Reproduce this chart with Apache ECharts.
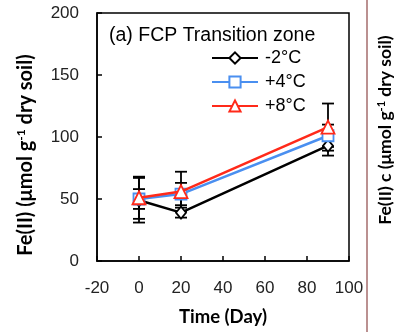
<!DOCTYPE html>
<html><head><meta charset="utf-8">
<script src="https://cdn.jsdelivr.net/npm/echarts@6/dist/echarts.min.js"></script>
<style>html,body{margin:0;padding:0;background:#fff}#c{width:401px;height:332px}</style>
</head><body><div id="c"></div>
<script>
const days = [0, 20, 90];
const seriesNames = ['-2°C', '+4°C', '+8°C'];
const valsM2 = [49, 39, 93];
const valsP4 = [50, 54, 101];
const valsP8 = [51, 56, 108];
const errM2 = [18, 4, 8];
const errP4 = [8, 9, 9];
const errP8 = [17, 16, 19];
const xTicks = [-20, 0, 20, 40, 60, 80, 100];
const yTicks = [0, 50, 100, 150, 200];
const colors = ['#000000', '#4a8ff0', '#ff2a1a'];

const chart = echarts.init(document.getElementById('c'), null, {renderer: 'canvas'});

function errSeries(vals, errs, color, z) {
  return {
    type: 'custom', z: z, silent: true,
    data: days.map((d, i) => [d, vals[i] - errs[i], vals[i] + errs[i]]),
    renderItem: function (params, api) {
      const lo = api.coord([api.value(0), api.value(1)]);
      const hi = api.coord([api.value(0), api.value(2)]);
      const w = 6;
      const st = {stroke: color, lineWidth: 1.8};
      return {type: 'group', children: [
        {type: 'line', shape: {x1: lo[0], y1: lo[1], x2: hi[0], y2: hi[1]}, style: st},
        {type: 'line', shape: {x1: lo[0]-w, y1: lo[1], x2: lo[0]+w, y2: lo[1]}, style: st},
        {type: 'line', shape: {x1: hi[0]-w, y1: hi[1], x2: hi[0]+w, y2: hi[1]}, style: st}
      ]};
    }
  };
}

function lineSeries(name, vals, color, symbol, size, z) {
  return {
    name: name, type: 'line', z: z,
    data: days.map((d, i) => [d, vals[i]]),
    symbol: symbol, symbolSize: size, showSymbol: true,
    lineStyle: {color: color, width: 2.5},
    itemStyle: {color: '#ffffff', borderColor: color, borderWidth: 1.8},
    emphasis: {disabled: true}
  };
}

function labStyle(fs) {
  return {
    a: {fontSize: fs, fontWeight: 'bold', fontFamily: 'Lato', fill: '#000'},
    s: {fontSize: Math.round(fs*0.6), fontWeight: 'bold', fontFamily: 'Lato', fill: '#000', verticalAlign: 'top', padding: [0,0,Math.round(fs*0.45),0]}
  };
}

chart.setOption({
  animation: false,
  backgroundColor: '#ffffff',
  grid: {left: 97, right: 52, top: 13, bottom: 71, show: true, borderColor: '#000', borderWidth: 1.5, backgroundColor: 'transparent'},
  legend: {
    orient: 'vertical', left: 206, top: 44, itemWidth: 46, itemHeight: 14, itemGap: 6,
    data: seriesNames,
    textStyle: {fontSize: 18, fontFamily: 'Liberation Sans', color: '#000', padding: [0,0,0,2]}
  },
  title: {
    text: '(a) FCP Transition zone', left: 104, top: 21,
    textStyle: {fontSize: 19.5, fontWeight: 'normal', fontFamily: 'Liberation Sans', color: '#000'}
  },
  xAxis: {
    type: 'value', min: xTicks[0], max: xTicks[xTicks.length-1], interval: 20,
    axisLine: {onZero: false, lineStyle: {color: '#000', width: 1.5}},
    axisTick: {inside: true, length: 5, lineStyle: {color: '#000', width: 1.5}},
    axisLabel: {margin: 19, fontSize: 17, fontFamily: 'Liberation Sans', color: '#222'},
    splitLine: {show: false},
    name: 'Time (Day)', nameLocation: 'middle', nameGap: 47,
    nameTextStyle: {fontSize: 18.5, fontWeight: 'bold', fontFamily: 'Lato', color: '#000'}
  },
  yAxis: {
    type: 'value', min: yTicks[0], max: yTicks[yTicks.length-1], interval: 50,
    axisLine: {onZero: false, lineStyle: {color: '#000', width: 1.5}},
    axisTick: {inside: true, length: 5, lineStyle: {color: '#000', width: 1.5}},
    axisLabel: {margin: 18, fontSize: 17, fontFamily: 'Liberation Sans', color: '#222', padding: [4,0,0,0]},
    splitLine: {show: false}
  },
  graphic: [
    {type: 'line', shape: {x1: 367, y1: 0, x2: 367, y2: 332}, style: {stroke: '#a56c6c', lineWidth: 1.5}},
    {type: 'text', x: 26, y: 155, rotation: Math.PI/2,
     style: {text: '{a|Fe(II) (μmol g}{s|-1}{a| dry soil)}', align: 'center', verticalAlign: 'middle',
       rich: labStyle(20)}},
    {type: 'text', x: 385, y: 130, rotation: Math.PI/2,
     style: {text: '{a|Fe(II) c (μmol g}{s|-1}{a| dry soil)}', align: 'center', verticalAlign: 'middle',
       rich: labStyle(17.5)}}
  ],
  series: [
    errSeries(valsM2, errM2, colors[0], 2),
    errSeries(valsP4, errP4, colors[0], 2),
    errSeries(valsP8, errP8, colors[0], 2),
    lineSeries(seriesNames[0], valsM2, colors[0], 'diamond', [10, 12], 3),
    lineSeries(seriesNames[1], valsP4, colors[1], 'rect', 11, 4),
    lineSeries(seriesNames[2], valsP8, colors[2], 'triangle', 13, 5)
  ]
});
</script></body></html>
